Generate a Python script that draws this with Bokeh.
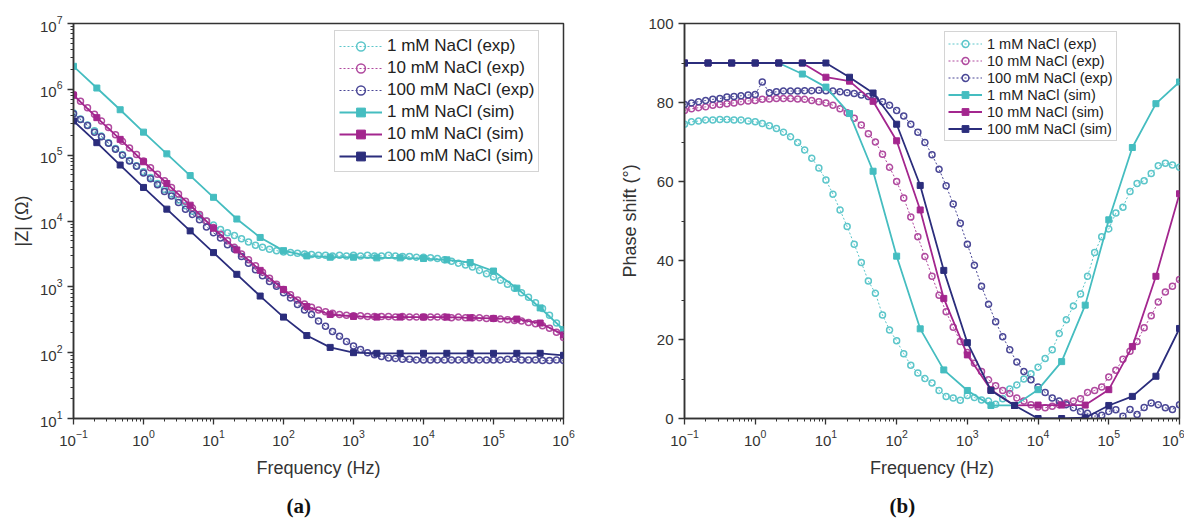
import numpy as np
from bokeh.plotting import figure
from bokeh.layouts import row
from bokeh.models import (LogTickFormatter, FixedTicker, Legend, LegendItem, Title,
                          BasicTickFormatter)
from bokeh.embed import file_html
from bokeh.resources import INLINE

# ---------------- data ----------------
# frequency sweeps: experimental 10 pts/decade, simulation 3 pts/decade, 0.1 Hz .. 1 MHz
freq_exp = np.logspace(-1, 6, 71)
freq_sim = np.logspace(-1, 6, 22)

labels_exp = ["1 mM NaCl (exp)", "10 mM NaCl (exp)", "100 mM NaCl (exp)"]
labels_sim = ["1 mM NaCl (sim)", "10 mM NaCl (sim)", "100 mM NaCl (sim)"]

# (a) log10 |Z| (Ohm)
logz_exp_1mM = [5.64, 5.55, 5.46, 5.37, 5.29, 5.19, 5.10, 5.01, 4.92, 4.84,
                4.75, 4.66, 4.57, 4.48, 4.41, 4.32, 4.23, 4.15, 4.08, 4.00,
                3.94, 3.87, 3.82, 3.78, 3.73, 3.68, 3.63, 3.60, 3.57, 3.55,
                3.53, 3.52, 3.51, 3.50, 3.49, 3.48, 3.48, 3.47, 3.48, 3.47,
                3.48, 3.47, 3.48, 3.47, 3.47, 3.48, 3.47, 3.46, 3.46, 3.45,
                3.45, 3.44, 3.43, 3.41, 3.39, 3.36, 3.33, 3.30, 3.25, 3.20,
                3.15, 3.10, 3.04, 2.98, 2.91, 2.84, 2.76, 2.67, 2.57, 2.45, 2.30]
logz_exp_10mM = [5.92, 5.82, 5.72, 5.62, 5.52, 5.42, 5.31, 5.21, 5.11, 5.01,
                 4.91, 4.81, 4.71, 4.61, 4.51, 4.41, 4.30, 4.20, 4.10, 4.00,
                 3.90, 3.80, 3.70, 3.60, 3.50, 3.41, 3.32, 3.22, 3.13, 3.04,
                 2.96, 2.88, 2.80, 2.74, 2.69, 2.65, 2.62, 2.60, 2.58, 2.57,
                 2.56, 2.56, 2.55, 2.55, 2.55, 2.55, 2.54, 2.55, 2.54, 2.54,
                 2.54, 2.54, 2.54, 2.54, 2.53, 2.54, 2.53, 2.53, 2.53, 2.52,
                 2.52, 2.51, 2.50, 2.49, 2.48, 2.46, 2.44, 2.41, 2.37, 2.31, 2.23]
logz_exp_100mM = [5.63, 5.54, 5.45, 5.35, 5.28, 5.18, 5.09, 5.00, 4.91, 4.83,
                  4.73, 4.64, 4.55, 4.45, 4.38, 4.28, 4.18, 4.10, 4.02, 3.91,
                  3.82, 3.74, 3.64, 3.57, 3.46, 3.36, 3.26, 3.17, 3.08, 3.01,
                  2.91, 2.83, 2.73, 2.65, 2.58, 2.48, 2.40, 2.32, 2.25, 2.17,
                  2.10, 2.05, 2.00, 1.97, 1.94, 1.92, 1.91, 1.90, 1.90, 1.89,
                  1.89, 1.89, 1.89, 1.89, 1.89, 1.89, 1.89, 1.89, 1.89, 1.89,
                  1.89, 1.89, 1.90, 1.90, 1.89, 1.89, 1.89, 1.88, 1.88, 1.89, 1.88]
logz_sim_1mM = [6.35, 6.02, 5.69, 5.35, 5.02, 4.69, 4.36, 4.03, 3.75, 3.55, 3.47,
                3.45, 3.45, 3.44, 3.44, 3.43, 3.41, 3.37, 3.24, 2.98, 2.68, 2.35]
logz_sim_10mM = [5.91, 5.57, 5.24, 4.90, 4.57, 4.24, 3.89, 3.56, 3.25, 2.96, 2.70,
                 2.58, 2.55, 2.54, 2.54, 2.54, 2.54, 2.53, 2.52, 2.51, 2.45, 2.27]
logz_sim_100mM = [5.52, 5.19, 4.85, 4.51, 4.18, 3.85, 3.52, 3.19, 2.86, 2.54, 2.26,
                  2.08, 2.00, 1.99, 1.99, 1.99, 1.99, 1.99, 1.99, 1.99, 1.99, 1.96]

# (b) phase shift (deg)
phase_exp_1mM = [74.5, 75.1, 75.3, 75.6, 75.6, 75.7, 75.7, 75.6, 75.6, 75.3,
                 75.1, 74.7, 74.1, 73.4, 72.5, 71.3, 69.9, 68.0, 65.9, 63.4,
                 60.4, 56.8, 52.8, 48.6, 44.1, 39.5, 34.8, 31.7, 26.2, 22.4,
                 19.7, 16.4, 13.5, 11.5, 10.1, 9.0, 7.1, 5.6, 5.2, 4.6,
                 5.8, 5.3, 4.7, 4.4, 3.6, 5.0, 7.5, 8.5, 10.0, 11.3,
                 13.0, 15.2, 17.4, 21.5, 25.0, 28.5, 31.5, 36.0, 42.0, 46.0,
                 48.0, 52.0, 53.5, 57.5, 59.5, 60.2, 62.0, 64.0, 64.6, 64.2, 63.6]
phase_exp_10mM = [78.0, 78.4, 78.7, 78.9, 79.3, 79.5, 79.7, 79.9, 80.2, 80.4,
                  80.5, 80.8, 80.9, 81.0, 81.0, 81.0, 80.9, 80.8, 80.5, 80.2,
                  79.9, 79.3, 78.4, 77.4, 76.0, 74.3, 72.1, 70.0, 66.9, 63.6,
                  60.0, 55.8, 51.0, 46.0, 41.0, 36.0, 31.2, 27.0, 23.1, 19.5,
                  16.7, 14.0, 11.9, 9.8, 8.3, 7.1, 6.3, 5.2, 4.4, 3.5,
                  2.9, 2.7, 3.1, 3.5, 3.9, 4.4, 5.0, 6.6, 7.1, 8.0,
                  10.5, 12.2, 15.0, 17.0, 19.5, 23.0, 26.0, 29.5, 32.0, 33.5, 35.2]
phase_exp_100mM = [79.5, 79.9, 80.2, 80.5, 80.8, 81.0, 81.4, 81.5, 81.7, 81.9,
                   82.0, 85.2, 82.5, 82.7, 82.9, 82.9, 82.9, 83.0, 83.0, 83.1,
                   83.0, 82.9, 82.7, 82.5, 82.3, 81.9, 81.5, 80.8, 80.2, 79.3,
                   78.0, 76.6, 74.5, 72.5, 69.9, 66.8, 63.1, 58.9, 54.3, 49.4,
                   44.1, 38.8, 33.5, 28.9, 24.5, 20.7, 17.4, 14.3, 11.9, 9.8,
                   8.0, 6.6, 5.2, 4.4, 3.5, 2.7, 1.8, 1.3, 0.6, 0.8,
                   1.8, 2.2, 0.6, 2.3, 1.0, 2.8, 3.9, 3.5, 2.7, 2.3, 3.5]
phase_sim_1mM = [90, 90, 90, 90, 90, 87.2, 83.9, 77.2, 62.6, 41.1, 22.7,
                 12.3, 7.1, 3.3, 3.3, 7.3, 14.4, 28.7, 50.3, 68.6, 79.7, 85.2]
phase_sim_10mM = [90, 90, 90, 90, 90, 90, 86.4, 85.4, 80.3, 70.3, 52.8,
                  30.4, 16.1, 7.3, 3.3, 3.4, 3.4, 3.4, 7.3, 18.2, 36.0, 56.9]
phase_sim_100mM = [90, 90, 90, 90, 90, 90, 90, 86.4, 82.4, 74.5, 59.0,
                   37.5, 19.2, 7.1, 3.3, 0.0, 0.0, 0.2, 3.3, 5.6, 10.7, 22.8]

# ---------------- styling ----------------
col_sim = ["#45bdc0", "#a3268e", "#2b2d7c"]
col_exp = ["#5cc6ca", "#b04a9f", "#4a4796"]
FONT = "Liberation Sans"
AXC = "#333333"

decades_x = [10.0 ** e for e in range(-1, 7)]
minor_x = [m * 10.0 ** e for e in range(-1, 6) for m in range(2, 10)]


def style_axes(p):
    for ax in (p.xaxis[0], p.yaxis[0]):
        ax.axis_line_color = AXC
        ax.axis_line_width = 1.5
        ax.major_tick_line_color = AXC
        ax.minor_tick_line_color = AXC
        ax.major_tick_line_width = 1.3
        ax.major_tick_out = 6
        ax.major_tick_in = 0
        ax.minor_tick_out = 3
        ax.minor_tick_in = 0
        ax.major_label_text_font = FONT
        ax.major_label_text_font_size = "15px"
        ax.major_label_text_color = "#333333"
        ax.axis_label_text_font = FONT
        ax.axis_label_text_font_size = "18px"
        ax.axis_label_text_font_style = "normal"
        ax.axis_label_text_color = "#333333"
    p.xaxis[0].axis_label_standoff = 9
    p.xgrid.visible = False
    p.ygrid.visible = False
    p.outline_line_color = AXC
    p.outline_line_width = 1.5
    p.outline_line_alpha = 1
    p.background_fill_color = "white"
    p.border_fill_color = "white"


def add_series(p, xe, ye_list, xs, ys_list, legend_loc, fsize, gh, gw, pad):
    items = []
    for i in range(3):
        ln = p.line(xe, ye_list[i], line_color=col_exp[i], line_dash="2 2", line_width=1)
        sc = p.scatter(xe, ye_list[i], marker="circle", size=6, line_color=col_exp[i],
                       line_width=1.5, fill_color=None)
        items.append(LegendItem(label=labels_exp[i], renderers=[ln, sc]))
    for i in range(3):
        ln = p.line(xs, ys_list[i], line_color=col_sim[i], line_width=1.8)
        sc = p.scatter(xs, ys_list[i], marker="square", size=6, line_color=col_sim[i],
                       fill_color=col_sim[i])
        items.append(LegendItem(label=labels_sim[i], renderers=[ln, sc]))
    leg = Legend(items=items, location=legend_loc)
    leg.label_text_font = FONT
    leg.label_text_font_size = fsize
    leg.label_text_color = "#222222"
    leg.glyph_height = gh
    leg.glyph_width = gw
    leg.label_height = gh
    leg.label_standoff = 5
    leg.spacing = 0
    leg.padding = pad
    leg.margin = 0
    leg.border_line_color = "#aaaaaa"
    leg.border_line_width = 1
    leg.background_fill_alpha = 1
    p.add_layout(leg)


def panel_title(text, offset):
    return Title(text=text, align="left", offset=offset, standoff=22,
                 text_font="Liberation Serif", text_font_style="bold",
                 text_font_size="21px", text_color="#111111")


# ---------------- (a) impedance magnitude ----------------
p1 = figure(x_axis_type="log", y_axis_type="log", x_range=(0.1, 1e6), y_range=(10, 1e7),
            frame_width=490, frame_height=395, min_border_left=73, min_border_right=31,
            min_border_top=23, min_border_bottom=0,
            output_backend="svg", toolbar_location=None)
style_axes(p1)
p1.xaxis[0].ticker = FixedTicker(ticks=decades_x, minor_ticks=minor_x)
p1.xaxis[0].formatter = LogTickFormatter()
decades_y = [10.0 ** e for e in range(1, 8)]
minor_y = [m * 10.0 ** e for e in range(1, 7) for m in range(2, 10)]
p1.yaxis[0].ticker = FixedTicker(ticks=decades_y, minor_ticks=minor_y)
p1.yaxis[0].formatter = LogTickFormatter()
p1.xaxis[0].axis_label = "Frequency (Hz)"
p1.yaxis[0].axis_label = "|Z| (Ω)"

z_exp = [10.0 ** np.array(v) for v in (logz_exp_1mM, logz_exp_10mM, logz_exp_100mM)]
z_sim = [10.0 ** np.array(v) for v in (logz_sim_1mM, logz_sim_10mM, logz_sim_100mM)]
add_series(p1, freq_exp, z_exp, freq_sim, z_sim, (261, 246), "17px", 22, 43, 4)
p1.add_layout(panel_title("(a)", 213), "below")

# ---------------- (b) phase ----------------
p2 = figure(x_axis_type="log", x_range=(0.1, 1e6), y_range=(0, 100),
            frame_width=495, frame_height=395, min_border_left=90, min_border_right=5,
            min_border_top=23, min_border_bottom=0,
            output_backend="svg", toolbar_location=None)
style_axes(p2)
p2.xaxis[0].ticker = FixedTicker(ticks=decades_x, minor_ticks=minor_x)
p2.xaxis[0].formatter = LogTickFormatter()
p2.yaxis[0].ticker = FixedTicker(ticks=[0, 20, 40, 60, 80, 100], minor_ticks=[10, 30, 50, 70, 90])
p2.yaxis[0].formatter = BasicTickFormatter()
p2.xaxis[0].axis_label = "Frequency (Hz)"
p2.yaxis[0].axis_label = "Phase shift (°)"

add_series(p2, freq_exp, [phase_exp_1mM, phase_exp_10mM, phase_exp_100mM],
           freq_sim, [phase_sim_1mM, phase_sim_10mM, phase_sim_100mM],
           (260, 277), "14.5px", 17, 34, 3)
p2.add_layout(panel_title("(b)", 205), "below")

layout = row(p1, p2)
open("out.html", "w").write(file_html(layout, INLINE))
